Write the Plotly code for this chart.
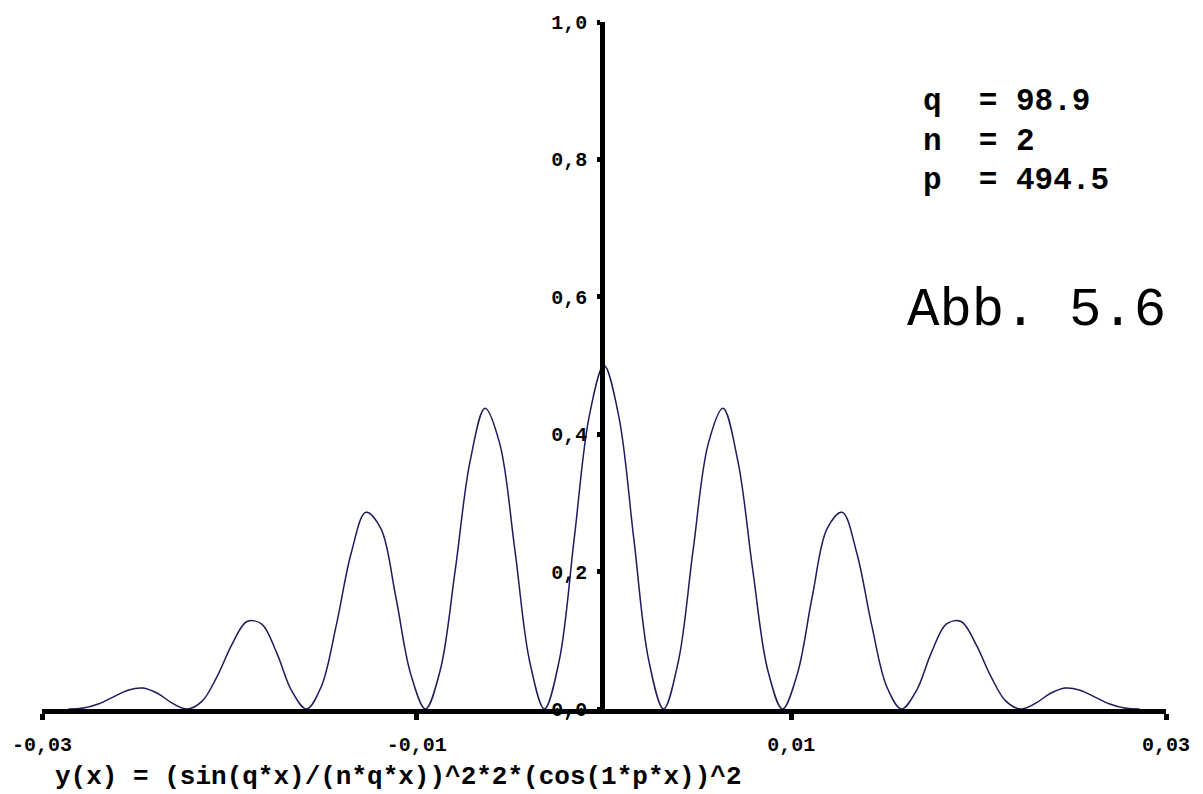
import plotly.graph_objects as go

# Curve samples
x_vals = [-0.02859, -0.02779, -0.02700, -0.02621, -0.02541, -0.02462, -0.02382, -0.02303, -0.02224,
          -0.02144, -0.02065, -0.01985, -0.01906, -0.01827, -0.01747, -0.01668, -0.01588,
          -0.01509, -0.01429, -0.01350, -0.01271, -0.01191, -0.01112, -0.01032, -0.00953,
          -0.00874, -0.00794, -0.00715, -0.00635, -0.00556, -0.00476, -0.00397, -0.00318,
          -0.00238, -0.00159, -0.00079, 0.0,
          0.00079, 0.00159, 0.00238, 0.00318, 0.00397, 0.00476, 0.00556, 0.00635,
          0.00715, 0.00794, 0.00874, 0.00953, 0.01032, 0.01112, 0.01191, 0.01271,
          0.01350, 0.01429, 0.01509, 0.01588, 0.01668, 0.01747, 0.01827, 0.01906,
          0.01985, 0.02065, 0.02144, 0.02224, 0.02303, 0.02382, 0.02462, 0.02541,
          0.02621, 0.02700, 0.02779, 0.02859]
y_vals = [0.0, 0.0014, 0.0073, 0.0173, 0.0273, 0.0304, 0.0225, 0.0082, 0.0,
          0.0118, 0.0476, 0.0945, 0.1273, 0.1237, 0.0817, 0.0267, 0.0,
          0.0327, 0.1220, 0.2264, 0.2864, 0.2625, 0.1641, 0.0511, 0.0,
          0.0567, 0.2026, 0.3603, 0.4376, 0.3855, 0.2320, 0.0695, 0.0,
          0.0719, 0.2480, 0.4259, 0.5,
          0.4259, 0.2480, 0.0719, 0.0, 0.0695, 0.2320, 0.3855, 0.4376,
          0.3603, 0.2026, 0.0567, 0.0, 0.0511, 0.1641, 0.2625, 0.2864,
          0.2264, 0.1220, 0.0327, 0.0, 0.0267, 0.0817, 0.1237, 0.1273,
          0.0945, 0.0476, 0.0118, 0.0, 0.0082, 0.0225, 0.0304, 0.0273,
          0.0173, 0.0073, 0.0014, 0.0]

x_tickvals = [-0.03, -0.01, 0.01, 0.03]
x_ticktext = ["-0,03", "-0,01", "0,01", "0,03"]
y_tickvals = [0.0, 0.2, 0.4, 0.6, 0.8, 1.0]
y_ticktext = ["0,0", "0,2", "0,4", "0,6", "0,8", "1,0"]

params = ["q  = 98.9", "n  = 2", "p  = 494.5"]
title_label = "Abb. 5.6"
formula = "y(x) = (sin(q*x)/(n*q*x))^2*2*(cos(1*p*x))^2"

MONO = "Courier New, Liberation Mono, monospace"

fig = go.Figure()
fig.add_trace(go.Scatter(
    x=x_vals, y=y_vals, mode="lines",
    line=dict(color="#1c1c5c", width=1.5, shape="spline", smoothing=1.0),
    hoverinfo="skip", showlegend=False,
))

fig.update_layout(
    width=1203, height=794, autosize=False,
    margin=dict(l=40, r=37, t=21, b=85, pad=0),
    paper_bgcolor="white", plot_bgcolor="white",
    showlegend=False,
    xaxis=dict(
        range=[-0.03, 0.03], showgrid=False, zeroline=False,
        showline=True, linewidth=5, linecolor="black",
        tickvals=x_tickvals, ticktext=x_ticktext,
        ticks="outside", ticklen=6, tickwidth=5, tickcolor="black",
        tickfont=dict(family=MONO, size=20, color="black", weight="bold"),
        ticklabelstandoff=7,
    ),
    yaxis=dict(
        range=[0, 1.0], showgrid=False, zeroline=False,
        anchor="free", position=0.4985, side="left",
        showline=True, linewidth=5, linecolor="black",
        tickvals=y_tickvals, ticktext=y_ticktext,
        ticks="outside", ticklen=3, tickwidth=5, tickcolor="black",
        tickfont=dict(family=MONO, size=20, color="black", weight="bold"),
        ticklabelstandoff=6,
    ),
)

param_y = [0.884, 0.826, 0.770]
for txt, yy in zip(params, param_y):
    fig.add_annotation(
        text=txt, xref="paper", yref="paper", x=0.782, y=yy,
        xanchor="left", yanchor="middle", showarrow=False,
        font=dict(family=MONO, size=31, color="black", weight="bold"),
    )

fig.add_annotation(
    text=title_label, xref="paper", yref="paper", x=0.768, y=0.580,
    xanchor="left", yanchor="middle", showarrow=False,
    font=dict(family=MONO, size=54, color="black"),
)

fig.add_annotation(
    text=formula, xref="paper", yref="paper", x=0.010, y=-0.099,
    xanchor="left", yanchor="middle", showarrow=False,
    font=dict(family=MONO, size=26, color="black", weight="bold"),
)

fig.write_html("out.html")
